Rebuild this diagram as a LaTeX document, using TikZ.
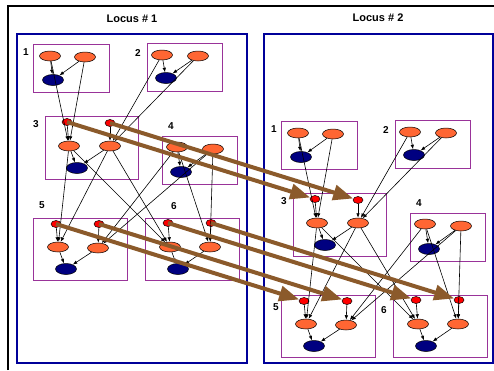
\documentclass[tikz,border=0pt]{standalone}
\usepackage{fontspec}
\setmainfont{Liberation Sans}
\usetikzlibrary{arrows.meta}
\usetikzlibrary{shapes.geometric}
\usepackage{xcolor}
\definecolor{myorange}{RGB}{255,102,51}
\definecolor{mynavy}{RGB}{0,0,128}
\definecolor{mypurple}{RGB}{153,51,153}
\definecolor{myblue}{RGB}{0,0,153}
\definecolor{mybrown}{RGB}{139,90,43}
\tikzset{
  >=latex, % for default LaTeX arrow head
  allele/.style={ellipse,draw=black,line width=0.5,fill=myorange,minimum width=21,minimum height=10,inner sep=0},
  genotype/.style={ellipse,draw=black,line width=0.5,fill=mynavy,minimum width=21,minimum height=11,inner sep=0},
  selector/.style={ellipse,draw=black,line width=0.5,fill=red,minimum width=10,minimum height=7,inner sep=0},
  person/.style={draw=mypurple,line width=0.9},
  locus/.style={draw=myblue,line width=1.8},
  num/.style={font=\fontsize{10}{12}\selectfont\bfseries,inner sep=0},
  title/.style={font=\fontsize{11}{13}\selectfont\bfseries,inner sep=0},
  connect arrow/.style={-{Latex[length=4.5,width=3.5]},line width=0.6,black},
  flow arrow/.style={-{Triangle[length=20,width=15]},line width=4,mybrown}
}
% one locus: six individuals, each with two alleles and a genotype
\newcommand{\pedigree}{%
  \draw[person] (33,44) rectangle (109,92);
  \draw[person] (147,43) rectangle (222,91);
  \draw[person] (45,116) rectangle (138,179);
  \draw[person] (162,136) rectangle (237,184);
  \draw[person] (33,218) rectangle (127,280);
  \draw[person] (145,218) rectangle (239,280);
  \node[num] (n1) at (26,52) {1};
  \node[num] (n2) at (138,53) {2};
  \node[num] (n3) at (36,124) {3};
  \node[num] (n4) at (171,126) {4};
  \node[allele] (x1a) at (50,56) {};
  \node[allele] (x1b) at (85,57) {};
  \node[genotype] (g1) at (53,80) {};
  \node[allele] (x2a) at (162,55) {};
  \node[allele] (x2b) at (198,56) {};
  \node[genotype] (g2) at (166,78) {};
  \node[selector] (s3a) at (67,122) {};
  \node[selector] (s3b) at (110,123) {};
  \node[allele] (x3a) at (69,146) {};
  \node[allele] (x3b) at (110,146) {};
  \node[genotype] (g3) at (77,168) {};
  \node[allele] (x4a) at (177,147) {};
  \node[allele] (x4b) at (213,149) {};
  \node[genotype] (g4) at (181,172) {};
  \node[selector] (s5a) at (56,224) {};
  \node[selector] (s5b) at (99,224) {};
  \node[allele] (x5a) at (58,247) {};
  \node[allele] (x5b) at (98,248) {};
  \node[genotype] (g5) at (66,269) {};
  \node[selector] (s6a) at (168,223) {};
  \node[selector] (s6b) at (211,223) {};
  \node[allele] (x6a) at (170,247) {};
  \node[allele] (x6b) at (210,247) {};
  \node[genotype] (g6) at (178,269) {};
  \draw[connect arrow] (x1a) -- (g1);
  \draw[connect arrow] (x1b) -- (g1);
  \draw[connect arrow] (x2a) -- (g2);
  \draw[connect arrow] (x2b) -- (g2);
  \draw[connect arrow] (x4a) -- (g4);
  \draw[connect arrow] (x4b) -- (g4);
  \draw[connect arrow] (x1a) -- (x3a);
  \draw[connect arrow] (x1b) -- (x3a);
  \draw[connect arrow] (s3a) -- (x3a);
  \draw[connect arrow] (x2a) -- (x3b);
  \draw[connect arrow] (x2b) -- (x3b);
  \draw[connect arrow] (s3b) -- (x3b);
  \draw[connect arrow] (x3a) -- (g3);
  \draw[connect arrow] (x3b) -- (g3);
  \draw[connect arrow] (x3a) -- (x5a);
  \draw[connect arrow] (x3b) -- (x5a);
  \draw[connect arrow] (s5a) -- (x5a);
  \draw[connect arrow] (x4a) -- (x5b);
  \draw[connect arrow] (x4b) -- (x5b);
  \draw[connect arrow] (s5b) -- (x5b);
  \draw[connect arrow] (x5a) -- (g5);
  \draw[connect arrow] (x5b) -- (g5);
  \draw[connect arrow] (x3a) -- (x6a);
  \draw[connect arrow] (x3b) -- (x6a);
  \draw[connect arrow] (s6a) -- (x6a);
  \draw[connect arrow] (x4a) -- (x6b);
  \draw[connect arrow] (x4b) -- (x6b);
  \draw[connect arrow] (s6b) -- (x6b);
  \draw[connect arrow] (x6a) -- (g6);
  \draw[connect arrow] (x6b) -- (g6);
}

\begin{document}
\begin{tikzpicture}[x=1pt,y=-1pt]
    \useasboundingbox (0,0) rectangle (494,370);
    \fill[white] (0,0) rectangle (494,370);
    \draw[line width=1.5] (8,370) -- (8,6) -- (494,6);

    \node[title] (t1) at (132,19) {Locus \# 1};
    \node[title] (t2) at (378,18) {Locus \# 2};
    \draw[locus] (17,34) rectangle (247,363);
    \draw[locus] (264,34) rectangle (493,363);

    \begin{scope}[name prefix=a-]
      \pedigree
      \node[num] (n5) at (42,205) {5};
      \node[num] (n6) at (174,206) {6};
    \end{scope}
    \begin{scope}[shift={(248,77)},name prefix=b-]
      \pedigree
      \node[num] (n5) at (28,230) {5};
      \node[num] (n6) at (136,233) {6};
    \end{scope}

    \draw[flow arrow] (a-s3a.center) -- (b-s3a);
    \draw[flow arrow] (a-s3b.center) -- (b-s3b);
    \draw[flow arrow] (a-s5a.center) -- (b-s5a);
    \draw[flow arrow] (a-s5b.center) -- (b-s5b);
    \draw[flow arrow] (a-s6a.center) -- (b-s6a);
    \draw[flow arrow] (a-s6b.center) -- (b-s6b);
\end{tikzpicture}
\end{document}
